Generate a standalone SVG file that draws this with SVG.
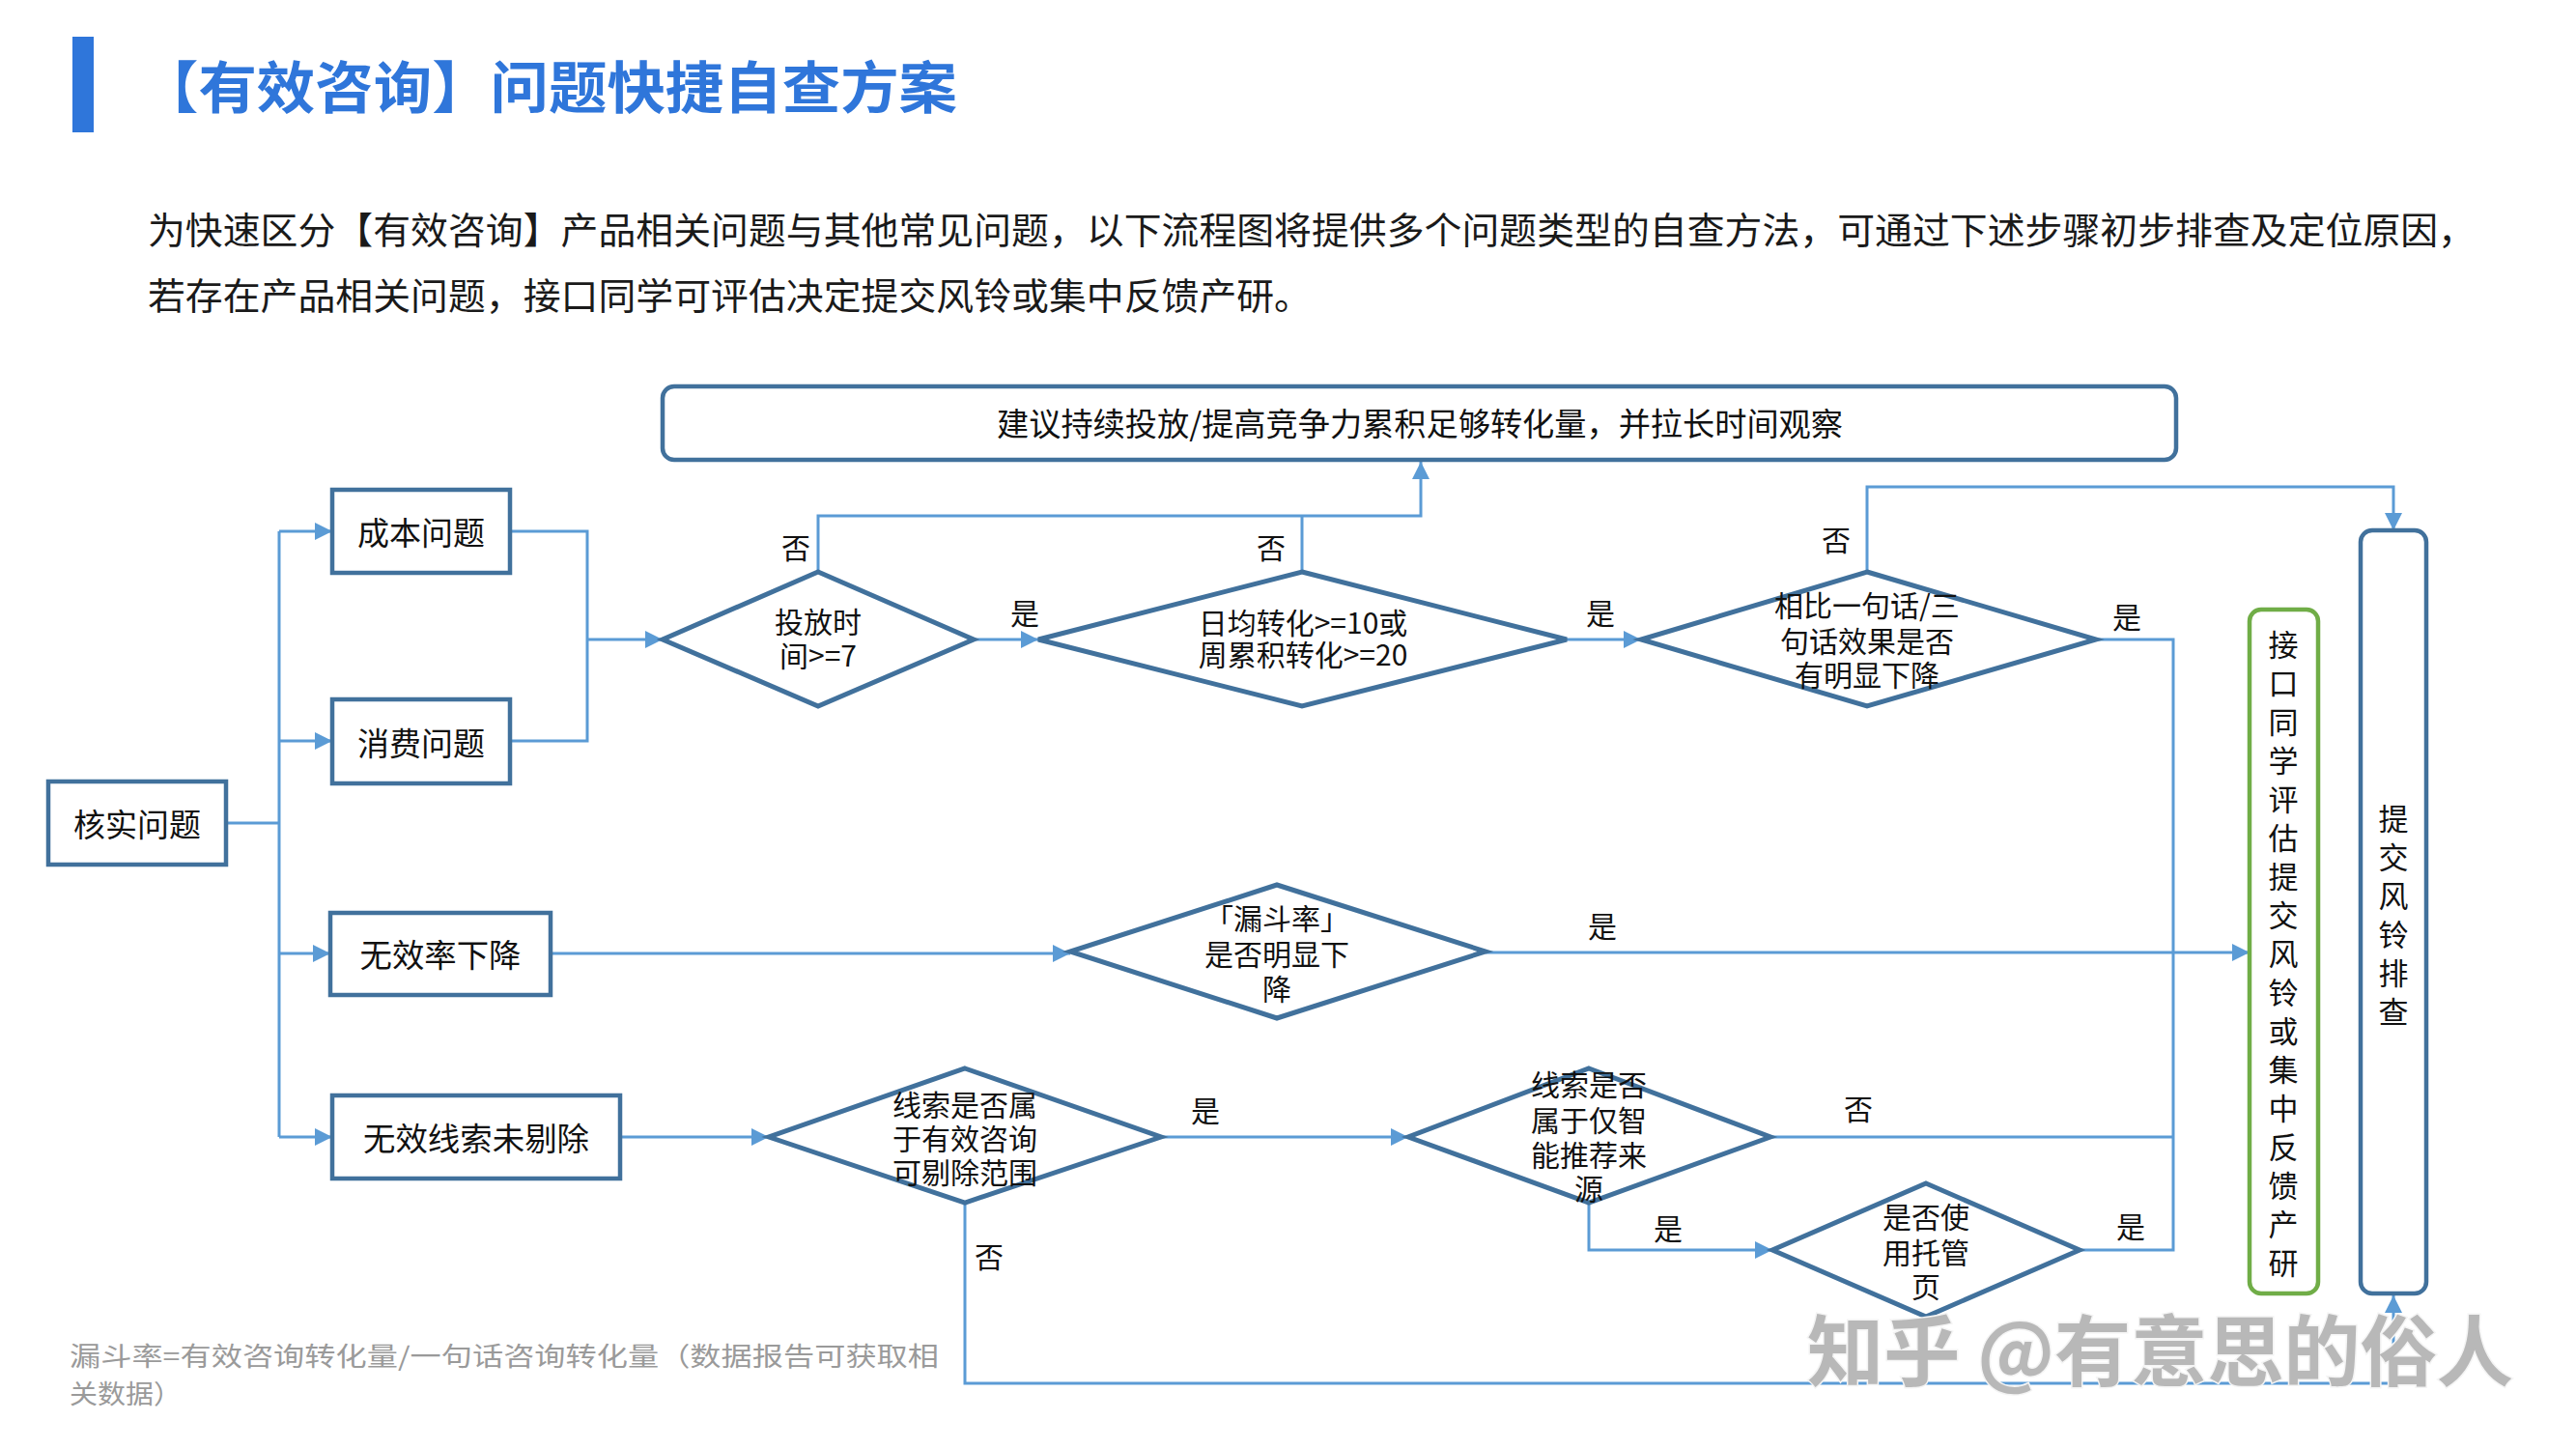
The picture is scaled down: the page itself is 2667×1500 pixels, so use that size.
<svg xmlns="http://www.w3.org/2000/svg" width="2667" height="1500" viewBox="0 0 2667 1500">
<style>
text{font-family:"Noto Sans CJK SC","Noto Sans",sans-serif;fill:#111}
.title{font-size:58px;font-weight:700;fill:#2F76DA}
.body{font-size:38px;fill:#1a1a1a}
.box{fill:#fff;stroke:#41719C;stroke-width:4.5}
.dia{fill:#fff;stroke:#41719C;stroke-width:5;stroke-linejoin:miter}
.green{fill:#fff;stroke:#70AD47;stroke-width:4.5}
.bt{font-size:33px;text-anchor:middle}
.dt{font-size:30px;text-anchor:middle}
.lbl{font-size:30px;text-anchor:middle}
.vt{font-size:31px;text-anchor:middle}
.con{fill:none;stroke:#5B9BD5;stroke-width:3}
.arr{marker-end:url(#ah)}
.note{font-size:27px;fill:#9a9a9a}
.wm{font-size:80px;font-weight:700;fill:#b8b8b8;stroke:#f4f4f4;stroke-width:3;paint-order:stroke}
</style>
<defs>
<marker id="ah" markerUnits="userSpaceOnUse" viewBox="0 0 18 18" markerWidth="18" markerHeight="18" refX="18" refY="9" orient="auto">
<path d="M0,0 L18,9 L0,18 z" fill="#5B9BD5"/>
</marker>
</defs>
<rect x="0" y="0" width="2667" height="1500" fill="#fff"/>

<g id="header">
<rect x="75" y="38" width="22" height="99" fill="#2F76DA"/>
<text class="title" x="145" y="112" textLength="846" lengthAdjust="spacingAndGlyphs">【有效咨询】问题快捷自查方案</text>
<text class="body" x="153" y="252" textLength="2410" lengthAdjust="spacingAndGlyphs">为快速区分【有效咨询】产品相关问题与其他常见问题，以下流程图将提供多个问题类型的自查方法，可通过下述步骤初步排查及定位原因，</text>
<text class="body" x="153" y="320" textLength="1205" lengthAdjust="spacingAndGlyphs">若存在产品相关问题，接口同学可评估决定提交风铃或集中反馈产研。</text>
</g>

<g id="connectors">
<path class="con" d="M234,852 H289"/>
<path class="con" d="M289,550 V1177"/>
<path class="con arr" d="M289,550 H344"/>
<path class="con arr" d="M289,767 H344"/>
<path class="con arr" d="M289,987 H342"/>
<path class="con arr" d="M289,1177 H344"/>
<path class="con" d="M528,550 H608 V767 H528"/>
<path class="con arr" d="M608,662 H686"/>
<path class="con arr" d="M1008,662 H1075"/>
<path class="con arr" d="M1622,662 H1699"/>
<path class="con arr" d="M847,592 V534 H1471 V478"/>
<path class="con" d="M1348,592 V534"/>
<path class="con arr" d="M1933,592 V504 H2478 V549"/>
<path class="con" d="M2170,662 H2250 V1294 H2153"/>
<path class="con arr" d="M570,987 H1108"/>
<path class="con arr" d="M1538,986 H2329"/>
<path class="con arr" d="M642,1177 H796"/>
<path class="con arr" d="M1202,1177 H1458"/>
<path class="con" d="M1833,1177 H2250"/>
<path class="con arr" d="M1645,1245 V1294 H1835"/>
<path class="con arr" d="M999,1245 V1432 H2478 V1341"/>
</g>

<g id="n-top">
<rect class="box" x="686" y="400" width="1567" height="76" rx="12"/>
<text class="bt" x="1470" y="451" textLength="876" lengthAdjust="spacingAndGlyphs">建议持续投放/提高竞争力累积足够转化量，并拉长时间观察</text>
</g>
<g id="n-hs">
<rect class="box" x="50" y="809" width="184" height="86"/>
<text class="bt" x="142" y="866">核实问题</text>
</g>
<g id="n-cb">
<rect class="box" x="344" y="507" width="184" height="86"/>
<text class="bt" x="436" y="564">成本问题</text>
</g>
<g id="n-xf">
<rect class="box" x="344" y="724" width="184" height="87"/>
<text class="bt" x="436" y="782">消费问题</text>
</g>
<g id="n-wxl">
<rect class="box" x="342" y="945" width="228" height="85"/>
<text class="bt" x="456" y="1001" textLength="167" lengthAdjust="spacingAndGlyphs">无效率下降</text>
</g>
<g id="n-wxs">
<rect class="box" x="344" y="1134" width="298" height="86"/>
<text class="bt" x="493" y="1191" textLength="234" lengthAdjust="spacingAndGlyphs">无效线索未剔除</text>
</g>

<g id="d1">
<polygon class="dia" points="847,592 1008,662 847,731 686,662"/>
<text class="dt" x="847" y="655"><tspan x="847">投放时</tspan><tspan x="847" dy="35">间&gt;=7</tspan></text>
</g>
<g id="d2">
<polygon class="dia" points="1348,592 1622,662 1348,731 1075,662"/>
<text class="dt" x="1349" y="656"><tspan x="1349">日均转化&gt;=10或</tspan><tspan x="1349" dy="33">周累积转化&gt;=20</tspan></text>
</g>
<g id="d3">
<polygon class="dia" points="1933,592 2170,662 1933,731 1699,662"/>
<text class="dt" x="1933" y="638"><tspan x="1933">相比一句话/三</tspan><tspan x="1933" dy="37">句话效果是否</tspan><tspan x="1933" dy="35">有明显下降</tspan></text>
</g>
<g id="d-funnel">
<polygon class="dia" points="1322,916 1538,985 1322,1054 1108,985"/>
<text class="dt" x="1322" y="962"><tspan x="1322">「漏斗率」</tspan><tspan x="1322" dy="37">是否明显下</tspan><tspan x="1322" dy="36">降</tspan></text>
</g>
<g id="d4">
<polygon class="dia" points="999,1106 1202,1177 999,1245 796,1177"/>
<text class="dt" x="999" y="1155"><tspan x="999">线索是否属</tspan><tspan x="999" dy="35">于有效咨询</tspan><tspan x="999" dy="35">可剔除范围</tspan></text>
</g>
<g id="d5">
<polygon class="dia" points="1645,1106 1833,1177 1645,1245 1458,1177"/>
<text class="dt" x="1645" y="1134"><tspan x="1645">线索是否</tspan><tspan x="1645" dy="37">属于仅智</tspan><tspan x="1645" dy="36">能推荐来</tspan><tspan x="1645" dy="35">源</tspan></text>
</g>
<g id="d6">
<polygon class="dia" points="1994,1225 2153,1294 1994,1363 1835,1294"/>
<text class="dt" x="1994" y="1271"><tspan x="1994">是否使</tspan><tspan x="1994" dy="37">用托管</tspan><tspan x="1994" dy="35">页</tspan></text>
</g>

<g id="n-green">
<rect class="green" x="2329" y="631" width="71" height="708" rx="12"/>
<text class="vt" x="2364" y="679"><tspan x="2364">接</tspan><tspan x="2364" dy="40">口</tspan><tspan x="2364" dy="40">同</tspan><tspan x="2364" dy="40">学</tspan><tspan x="2364" dy="40">评</tspan><tspan x="2364" dy="40">估</tspan><tspan x="2364" dy="40">提</tspan><tspan x="2364" dy="40">交</tspan><tspan x="2364" dy="40">风</tspan><tspan x="2364" dy="40">铃</tspan><tspan x="2364" dy="40">或</tspan><tspan x="2364" dy="40">集</tspan><tspan x="2364" dy="40">中</tspan><tspan x="2364" dy="40">反</tspan><tspan x="2364" dy="40">馈</tspan><tspan x="2364" dy="40">产</tspan><tspan x="2364" dy="40">研</tspan></text>
</g>
<g id="n-fengling">
<rect class="box" x="2444" y="549" width="68" height="790" rx="12"/>
<text class="vt" x="2478" y="859"><tspan x="2478">提</tspan><tspan x="2478" dy="40">交</tspan><tspan x="2478" dy="40">风</tspan><tspan x="2478" dy="40">铃</tspan><tspan x="2478" dy="40">排</tspan><tspan x="2478" dy="40">查</tspan></text>
</g>

<g id="labels">
<text class="lbl" x="824" y="578">否</text>
<text class="lbl" x="1316" y="578">否</text>
<text class="lbl" x="1061" y="646">是</text>
<text class="lbl" x="1657" y="646">是</text>
<text class="lbl" x="1901" y="570">否</text>
<text class="lbl" x="2202" y="650">是</text>
<text class="lbl" x="1659" y="970">是</text>
<text class="lbl" x="1248" y="1161">是</text>
<text class="lbl" x="1924" y="1159">否</text>
<text class="lbl" x="1727" y="1283">是</text>
<text class="lbl" x="2206" y="1281">是</text>
<text class="lbl" x="1024" y="1312">否</text>
</g>

<g id="footnote">
<text class="note" x="72" y="1414" textLength="900" lengthAdjust="spacingAndGlyphs">漏斗率=有效咨询转化量/一句话咨询转化量（数据报告可获取相</text>
<text class="note" x="72" y="1453" textLength="116" lengthAdjust="spacingAndGlyphs">关数据）</text>
</g>

<g id="watermark">
<text class="wm" x="1871" y="1428" textLength="731" lengthAdjust="spacingAndGlyphs">知乎 @有意思的俗人</text>
</g>
</svg>
